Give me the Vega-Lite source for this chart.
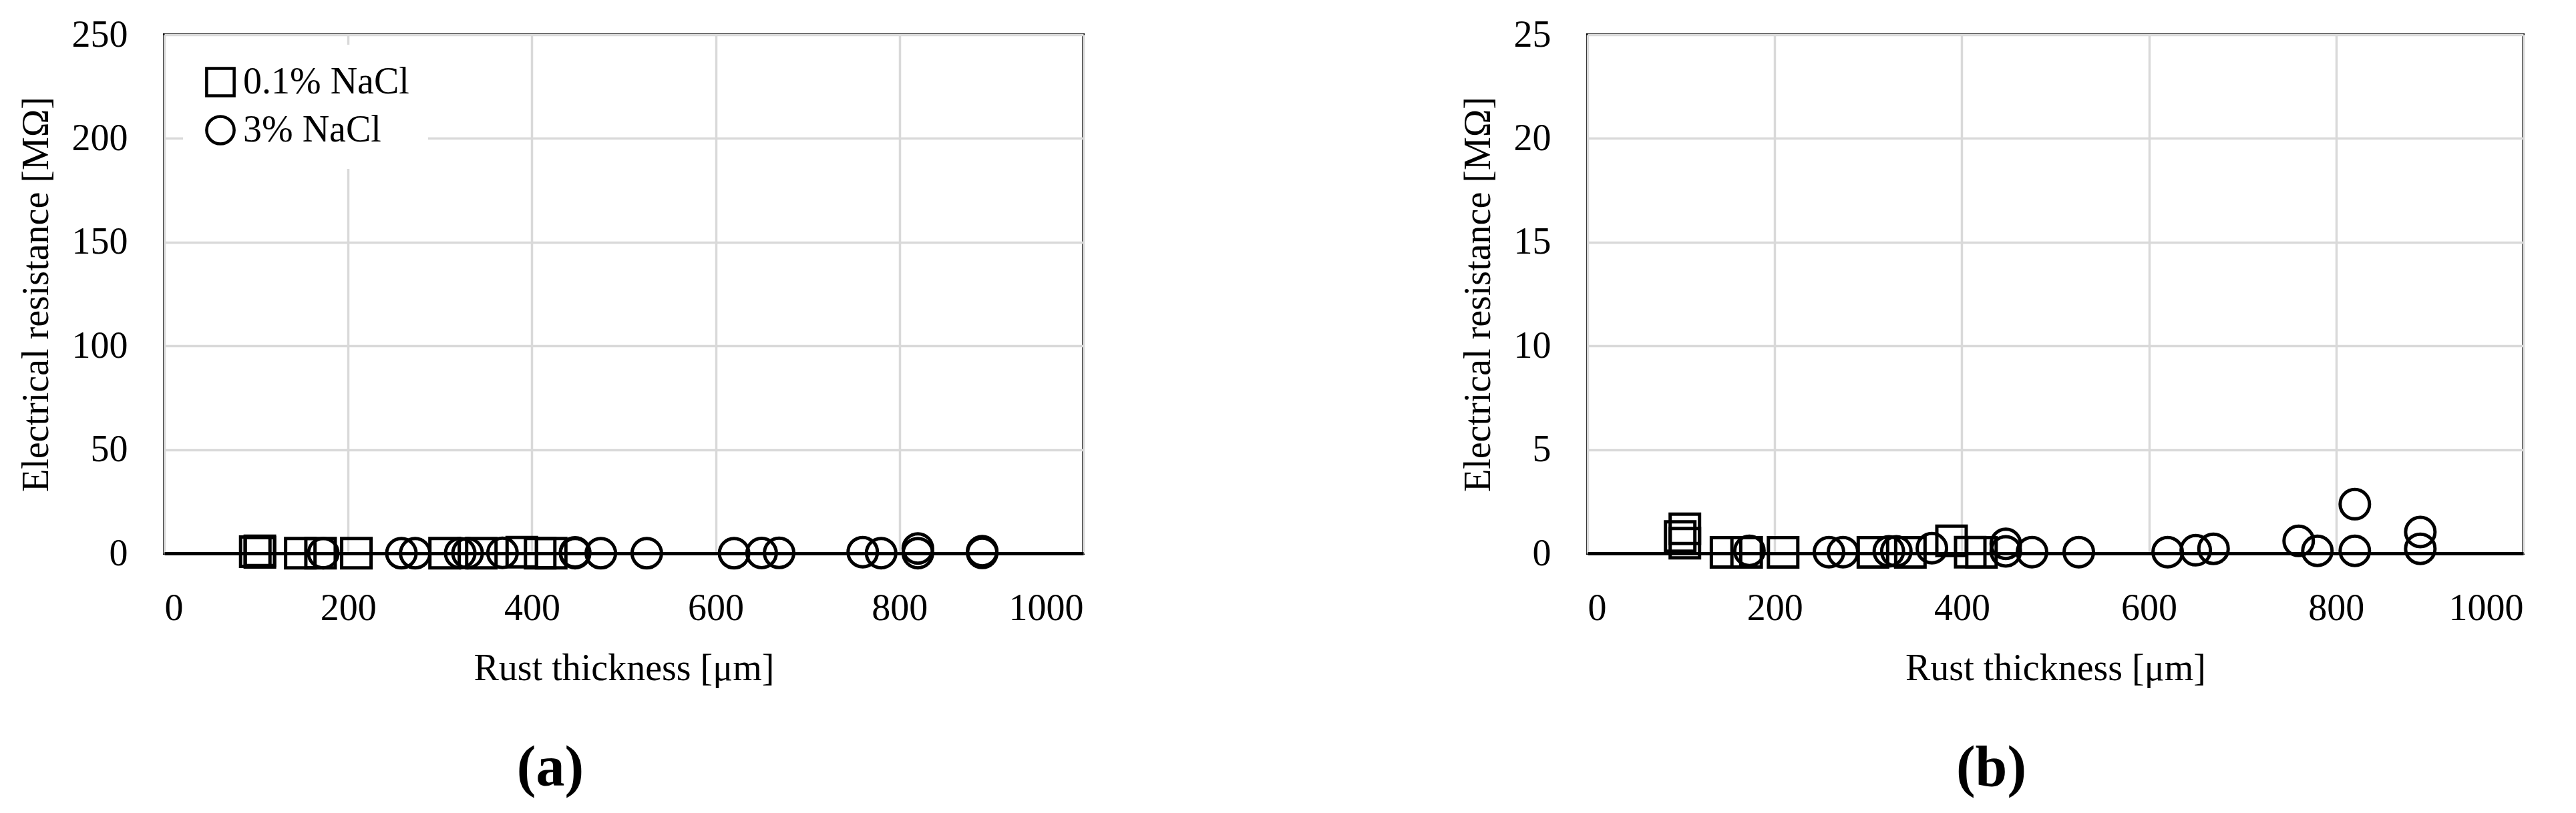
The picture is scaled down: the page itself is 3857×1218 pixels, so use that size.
{
  "$schema": "https://vega.github.io/schema/vega-lite/v6.json",
  "background": "white",
  "padding": {"left": 24, "top": 22, "right": 10, "bottom": 10},
  "datasets": {
    "pts": [
      {"thickness": 99, "resistance": 0.81, "solution": "0.1% NaCl"},
      {"thickness": 104, "resistance": 1.18, "solution": "0.1% NaCl"},
      {"thickness": 104, "resistance": 0.49, "solution": "0.1% NaCl"},
      {"thickness": 148, "resistance": 0.05, "solution": "0.1% NaCl"},
      {"thickness": 170, "resistance": 0.05, "solution": "0.1% NaCl"},
      {"thickness": 209, "resistance": 0.05, "solution": "0.1% NaCl"},
      {"thickness": 305, "resistance": 0.05, "solution": "0.1% NaCl"},
      {"thickness": 345, "resistance": 0.05, "solution": "0.1% NaCl"},
      {"thickness": 389, "resistance": 0.6, "solution": "0.1% NaCl"},
      {"thickness": 409, "resistance": 0.06, "solution": "0.1% NaCl"},
      {"thickness": 421, "resistance": 0.05, "solution": "0.1% NaCl"},
      {"thickness": 173, "resistance": 0.12, "solution": "3% NaCl"},
      {"thickness": 258, "resistance": 0.06, "solution": "3% NaCl"},
      {"thickness": 273, "resistance": 0.06, "solution": "3% NaCl"},
      {"thickness": 322, "resistance": 0.1, "solution": "3% NaCl"},
      {"thickness": 330, "resistance": 0.1, "solution": "3% NaCl"},
      {"thickness": 368, "resistance": 0.25, "solution": "3% NaCl"},
      {"thickness": 447, "resistance": 0.46, "solution": "3% NaCl"},
      {"thickness": 447, "resistance": 0.1, "solution": "3% NaCl"},
      {"thickness": 475, "resistance": 0.06, "solution": "3% NaCl"},
      {"thickness": 525, "resistance": 0.06, "solution": "3% NaCl"},
      {"thickness": 620, "resistance": 0.06, "solution": "3% NaCl"},
      {"thickness": 650, "resistance": 0.15, "solution": "3% NaCl"},
      {"thickness": 669, "resistance": 0.22, "solution": "3% NaCl"},
      {"thickness": 760, "resistance": 0.6, "solution": "3% NaCl"},
      {"thickness": 780, "resistance": 0.12, "solution": "3% NaCl"},
      {"thickness": 820, "resistance": 2.37, "solution": "3% NaCl"},
      {"thickness": 820, "resistance": 0.12, "solution": "3% NaCl"},
      {"thickness": 890, "resistance": 1.03, "solution": "3% NaCl"},
      {"thickness": 890, "resistance": 0.22, "solution": "3% NaCl"}
    ]
  },
  "config": {
    "font": "Liberation Serif",
    "view": {"stroke": "black", "strokeWidth": 4},
    "axis": {
      "labelFont": "Liberation Serif",
      "titleFont": "Liberation Serif",
      "labelFontSize": 56,
      "titleFontSize": 56,
      "labelColor": "black",
      "titleColor": "black",
      "titleFontWeight": "normal",
      "gridColor": "#d9d9d9",
      "gridWidth": 3.5,
      "ticks": false,
      "domain": false,
      "labelPadding": 55
    },
    "legend": {
      "fillColor": "white",
      "padding": 28,
      "labelFont": "Liberation Serif",
      "labelFontSize": 56,
      "labelColor": "black",
      "labelLimit": 0,
      "symbolSize": 1700,
      "symbolStrokeWidth": 4.5,
      "symbolStrokeColor": "black",
      "symbolFillColor": "transparent",
      "rowPadding": 12,
      "labelOffset": 6
    },
    "title": {
      "font": "Liberation Serif",
      "fontSize": 86,
      "fontWeight": "bold",
      "color": "black",
      "orient": "bottom",
      "anchor": "middle",
      "frame": "bounds",
      "offset": 80
    },
    "concat": {"spacing": 559}
  },
  "hconcat": [
    {
      "width": 1376,
      "height": 777,
      "title": "(a)",
      "data": {"name": "pts"},
      "mark": {"type": "point", "filled": false, "strokeWidth": 5, "size": 1936, "color": "black", "opacity": 1},
      "encoding": {
        "x": {
          "field": "thickness", "type": "quantitative",
          "scale": {"domain": [0, 1000], "nice": false},
          "axis": {"values": [0, 200, 400, 600, 800, 1000], "format": "d", "title": "Rust thickness [μm]", "domain": true, "domainColor": "black", "domainWidth": 5, "titlePadding": 35}
        },
        "y": {
          "field": "resistance", "type": "quantitative",
          "scale": {"domain": [0, 250], "nice": false},
          "axis": {"values": [0, 50, 100, 150, 200, 250], "format": "d", "title": "Electrical resistance [MΩ]", "titlePadding": 24}
        },
        "shape": {
          "field": "solution", "type": "nominal",
          "scale": {"domain": ["0.1% NaCl", "3% NaCl"], "range": ["square", "circle"]},
          "legend": {"title": null, "orient": "none", "legendX": 28, "legendY": 15}
        }
      }
    },
    {
      "width": 1401,
      "height": 777,
      "title": "(b)",
      "data": {"name": "pts"},
      "mark": {"type": "point", "filled": false, "strokeWidth": 5, "size": 1936, "color": "black", "opacity": 1},
      "encoding": {
        "x": {
          "field": "thickness", "type": "quantitative",
          "scale": {"domain": [0, 1000], "nice": false},
          "axis": {"values": [0, 200, 400, 600, 800, 1000], "format": "d", "title": "Rust thickness [μm]", "domain": true, "domainColor": "black", "domainWidth": 5, "titlePadding": 35}
        },
        "y": {
          "field": "resistance", "type": "quantitative",
          "scale": {"domain": [0, 25], "nice": false},
          "axis": {"values": [0, 5, 10, 15, 20, 25], "format": "d", "title": "Electrical resistance [MΩ]", "titlePadding": 24}
        },
        "shape": {
          "field": "solution", "type": "nominal",
          "scale": {"domain": ["0.1% NaCl", "3% NaCl"], "range": ["square", "circle"]},
          "legend": null
        }
      }
    }
  ],
  "resolve": {"scale": {"shape": "independent"}, "legend": {"shape": "independent"}}
}
